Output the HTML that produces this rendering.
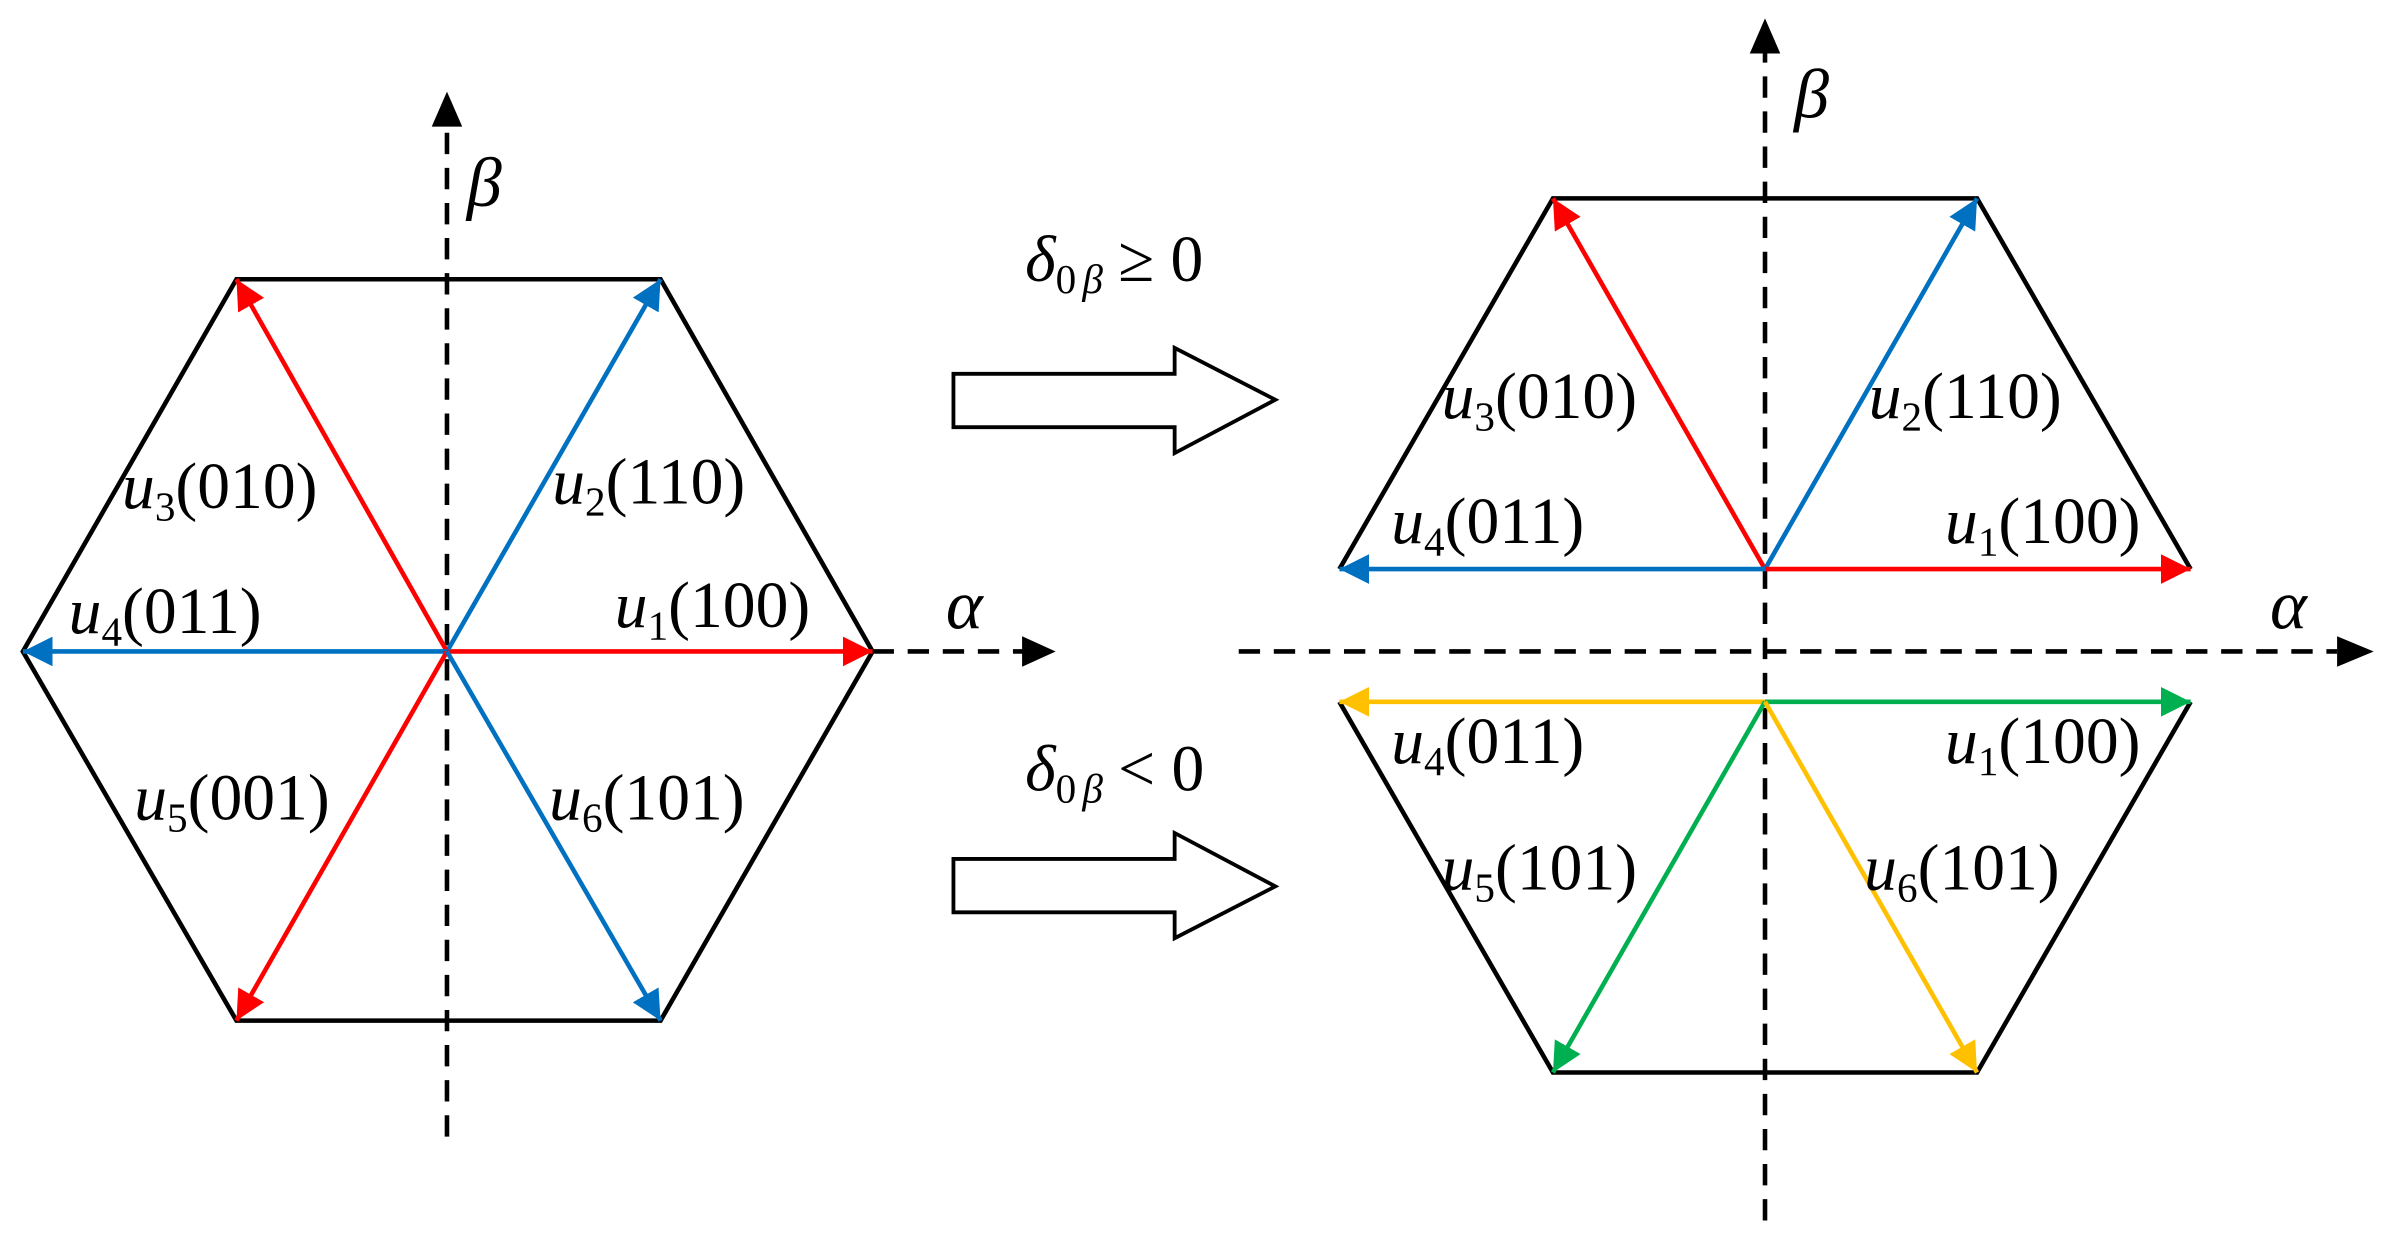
<!DOCTYPE html>
<html><head><meta charset="utf-8"><style>html,body{margin:0;padding:0;background:#fff}svg{display:block}</style></head>
<body>
<svg width="2392" height="1248" viewBox="0 0 1568 818" xmlns="http://www.w3.org/2000/svg" font-family="Liberation Serif, serif">
<defs>
<marker id="ab" viewBox="0 0 10 10" refX="10" refY="5" markerWidth="6.5" markerHeight="6.5" orient="auto" markerUnits="strokeWidth"><path d="M0,0L10,5L0,10z" fill="#0070c0"/></marker>
<marker id="ay" viewBox="0 0 10 10" refX="10" refY="5" markerWidth="6.5" markerHeight="6.5" orient="auto" markerUnits="strokeWidth"><path d="M0,0L10,5L0,10z" fill="#ffc000"/></marker>
<marker id="ag" viewBox="0 0 10 10" refX="10" refY="5" markerWidth="6.5" markerHeight="6.5" orient="auto" markerUnits="strokeWidth"><path d="M0,0L10,5L0,10z" fill="#00b050"/></marker>
<marker id="rr" viewBox="0 0 10 10" refX="10" refY="5" markerWidth="6.5" markerHeight="6.5" orient="auto" markerUnits="strokeWidth"><path d="M0,0L10,5L0,10z" fill="#f00"/></marker>
</defs>
<g fill="none" stroke="#000" stroke-width="3">
<polygon points="15,427 155,183 433,183 572,427 433,669 155,669"/>
<line x1="293" y1="745" x2="293" y2="80" stroke-dasharray="14,9"/>
<line x1="572" y1="427" x2="672" y2="427" stroke-dasharray="14,9"/>
<polyline points="878,373 1018,130 1296,130 1436,373"/>
<polyline points="878,460 1018,703 1296,703 1436,460"/>
<line x1="1157" y1="800" x2="1157" y2="32" stroke-dasharray="14,9"/>
<line x1="812" y1="427" x2="1532" y2="427" stroke-dasharray="14,9"/>
<polygon points="625,245 770,245 770,228 836,262 770,297 770,280 625,280" stroke-width="2.5"/>
<polygon points="625,563 770,563 770,546 836,581 770,615 770,598 625,598" stroke-width="2.5"/>
</g>
<g fill="#000">
<polygon points="283,83 303,83 293,60"/>
<polygon points="670,417 670,437 692,427"/>
<polygon points="1147,35 1167,35 1157,12"/>
<polygon points="1532,417 1532,437 1556,427"/>
</g>
<g stroke-width="3">
<line x1="293" y1="427" x2="572" y2="427" stroke="#f00" marker-end="url(#rr)"/>
<line x1="293" y1="427" x2="433" y2="183" stroke="#0070c0" marker-end="url(#ab)"/>
<line x1="293" y1="427" x2="155" y2="183" stroke="#f00" marker-end="url(#rr)"/>
<line x1="293" y1="427" x2="15" y2="427" stroke="#0070c0" marker-end="url(#ab)"/>
<line x1="293" y1="427" x2="155" y2="669" stroke="#f00" marker-end="url(#rr)"/>
<line x1="293" y1="427" x2="433" y2="669" stroke="#0070c0" marker-end="url(#ab)"/>
<line x1="1157" y1="373" x2="1018" y2="130" stroke="#f00" marker-end="url(#rr)"/>
<line x1="1157" y1="373" x2="1296" y2="130" stroke="#0070c0" marker-end="url(#ab)"/>
<line x1="1157" y1="373" x2="878" y2="373" stroke="#0070c0" marker-end="url(#ab)"/>
<line x1="1157" y1="373" x2="1436" y2="373" stroke="#f00" marker-end="url(#rr)"/>
<line x1="1157" y1="460" x2="878" y2="460" stroke="#ffc000" marker-end="url(#ay)"/>
<line x1="1157" y1="460" x2="1436" y2="460" stroke="#00b050" marker-end="url(#ag)"/>
<line x1="1157" y1="460" x2="1018" y2="703" stroke="#00b050" marker-end="url(#ag)"/>
<line x1="1157" y1="460" x2="1296" y2="703" stroke="#ffc000" marker-end="url(#ay)"/>
</g>
<g font-size="43" fill="#000">
<text x="80" y="333"><tspan font-style="italic">u</tspan><tspan font-size="27" dy="8">3</tspan><tspan dy="-8">(010)</tspan></text>
<text x="362" y="330"><tspan font-style="italic">u</tspan><tspan font-size="27" dy="8">2</tspan><tspan dy="-8">(110)</tspan></text>
<text x="45" y="415"><tspan font-style="italic">u</tspan><tspan font-size="27" dy="8">4</tspan><tspan dy="-8">(011)</tspan></text>
<text x="403" y="411"><tspan font-style="italic">u</tspan><tspan font-size="27" dy="8">1</tspan><tspan dy="-8">(100)</tspan></text>
<text x="88" y="537"><tspan font-style="italic">u</tspan><tspan font-size="27" dy="8">5</tspan><tspan dy="-8">(001)</tspan></text>
<text x="360" y="537"><tspan font-style="italic">u</tspan><tspan font-size="27" dy="8">6</tspan><tspan dy="-8">(101)</tspan></text>
<text x="945" y="274"><tspan font-style="italic">u</tspan><tspan font-size="27" dy="8">3</tspan><tspan dy="-8">(010)</tspan></text>
<text x="1225" y="274"><tspan font-style="italic">u</tspan><tspan font-size="27" dy="8">2</tspan><tspan dy="-8">(110)</tspan></text>
<text x="912" y="356"><tspan font-style="italic">u</tspan><tspan font-size="27" dy="8">4</tspan><tspan dy="-8">(011)</tspan></text>
<text x="1275" y="356"><tspan font-style="italic">u</tspan><tspan font-size="27" dy="8">1</tspan><tspan dy="-8">(100)</tspan></text>
<text x="912" y="500"><tspan font-style="italic">u</tspan><tspan font-size="27" dy="8">4</tspan><tspan dy="-8">(011)</tspan></text>
<text x="1275" y="500"><tspan font-style="italic">u</tspan><tspan font-size="27" dy="8">1</tspan><tspan dy="-8">(100)</tspan></text>
<text x="945" y="583"><tspan font-style="italic">u</tspan><tspan font-size="27" dy="8">5</tspan><tspan dy="-8">(101)</tspan></text>
<text x="1222" y="583"><tspan font-style="italic">u</tspan><tspan font-size="27" dy="8">6</tspan><tspan dy="-8">(101)</tspan></text>
<text x="306" y="135" font-style="italic" font-size="46">β</text>
<text x="1176" y="77" font-style="italic" font-size="46">β</text>
<text x="620" y="412" font-style="italic" font-size="46">α</text>
<text x="1488" y="412" font-style="italic" font-size="46">α</text>
<text x="672" y="184"><tspan font-style="italic">δ</tspan><tspan font-size="27" dy="8">0</tspan><tspan font-size="27" font-style="italic" dx="4">β</tspan><tspan dy="-8" dx="10">≥ 0</tspan></text>
<text x="672" y="518"><tspan font-style="italic">δ</tspan><tspan font-size="27" dy="8">0</tspan><tspan font-size="27" font-style="italic" dx="4">β</tspan><tspan dy="-8" dx="10">&lt; 0</tspan></text>
</g>
</svg>
</body></html>
